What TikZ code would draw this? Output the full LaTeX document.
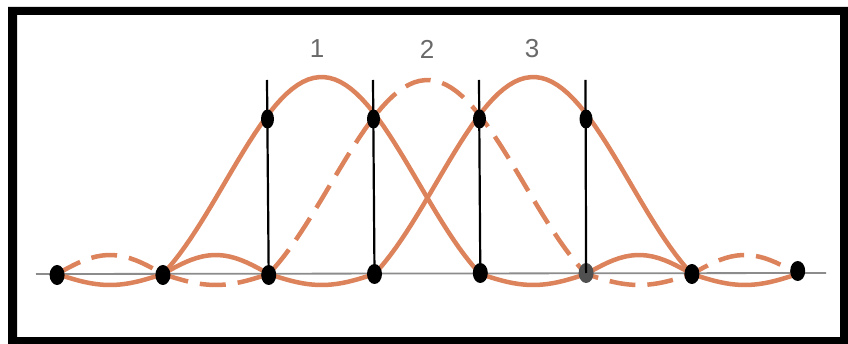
\documentclass[tikz,border=0pt]{standalone}
\usepackage{fontspec}
\setmainfont{Liberation Sans}
\usetikzlibrary{shapes.geometric}
\definecolor{curvec}{RGB}{221,131,92}
\definecolor{lblc}{RGB}{105,105,105}
\definecolor{axisc}{RGB}{140,140,140}
\definecolor{dotgray}{RGB}{80,80,80}
\begin{document}
\begin{tikzpicture}[x=1pt,y=-1pt,
  pulse/.style={draw=curvec,line width=4.5pt,line join=round},
  pulsedash/.style={pulse,dash pattern=on 26pt off 12pt},
  dotb/.style={ellipse,fill=black,inner sep=0pt,minimum width=15pt,minimum height=20pt},
  dott/.style={ellipse,fill=black,inner sep=0pt,minimum width=13pt,minimum height=19pt},
  vline/.style={draw=black,line width=2.2pt},
  axisline/.style={draw=axisc,line width=1.8pt},
  lbl/.style={text=lblc,font=\fontsize{26}{30}\selectfont,inner sep=0pt},
  declare function={mainf(\x)=sin(120*\x)/(2.0944*\x)*(1-0.15*(\x/1.5)^2);}]
\useasboundingbox (0,0) rectangle (848,344);
\fill[white] (0,0) rectangle (848,344);
\fill[black,even odd rule] (8,7) rectangle (848,344) (17,15) rectangle (840,337);

% axis
\coordinate (axL) at (36,274);
\coordinate (axR) at (826,273);
\draw[axisline] (axL) -- (axR);

% curve 1 (solid, centre 321.6)
\draw[pulse] plot[domain=-2.5:-1.5,samples=20] ({321.6+105.8*\x},{274+11*sin(180*(-\x-1.5))})
  -- plot[domain=-1.5:1.5,samples=60] ({321.6+105.8*\x},{274-197*mainf(\x)})
  -- plot[domain=1.5:2.5,samples=20] ({321.6+105.8*\x},{274+11*sin(180*(\x-1.5))})
  -- plot[domain=2.5:3.5,samples=20] ({321.6+105.8*\x},{274-19*sin(180*(\x-2.5))});

% curve 2 (dashed, centre 427.4)
\draw[pulsedash] plot[domain=-3.5:-2.5,samples=20] ({427.4+105.8*\x},{274-19*sin(180*(-\x-2.5))})
  -- plot[domain=-2.5:-1.5,samples=20] ({427.4+105.8*\x},{274+11*sin(180*(-\x-1.5))})
  -- plot[domain=-1.5:1.5,samples=60] ({427.4+105.8*\x},{274-194*mainf(\x)})
  -- plot[domain=1.5:2.5,samples=20] ({427.4+105.8*\x},{274+11*sin(180*(\x-1.5))})
  -- plot[domain=2.5:3.5,samples=20] ({427.4+105.8*\x},{274-19*sin(180*(\x-2.5))});

% curve 3 (solid, centre 533.2)
\draw[pulse] plot[domain=-3.5:-2.5,samples=20] ({533.2+105.8*\x},{274-19*sin(180*(-\x-2.5))})
  -- plot[domain=-2.5:-1.5,samples=20] ({533.2+105.8*\x},{274+11*sin(180*(-\x-1.5))})
  -- plot[domain=-1.5:1.5,samples=60] ({533.2+105.8*\x},{274-197*mainf(\x)})
  -- plot[domain=1.5:2.5,samples=20] ({533.2+105.8*\x},{274+11*sin(180*(\x-1.5))});

% axis dots
\node[dotb] (b0) at (57.1,275) {};
\node[dotb] (b1) at (162.9,275) {};
\node[dotb] (b2) at (268.7,275) {};
\node[dotb] (b3) at (374.5,274) {};
\node[dotb] (b4) at (480.3,273) {};
\node[dotb,fill=dotgray] (b5) at (586.1,273) {};
\node[dotb] (b6) at (691.9,274) {};
\node[dotb] (b7) at (797.7,271) {};

% vertical lines
\coordinate (t1) at (267,80);
\coordinate (t2) at (373,80);
\coordinate (t3) at (479,80);
\coordinate (t4) at (585.5,80);
\draw[vline] (t1) -- (b2.center);
\draw[vline] (t2) -- (b3.center);
\draw[vline] (t3) -- (b4.center);
\draw[vline] (t4) -- (b5.center);

% upper dots
\node[dott] (u1) at (267.5,119) {};
\node[dott] (u2) at (373.5,119) {};
\node[dott] (u3) at (479.5,119) {};
\node[dott] (u4) at (586,119) {};

% labels
\node[lbl] (l1) at (317,49) {1};
\node[lbl] (l2) at (427,49) {2};
\node[lbl] (l3) at (532,49) {3};
\end{tikzpicture}
\end{document}
